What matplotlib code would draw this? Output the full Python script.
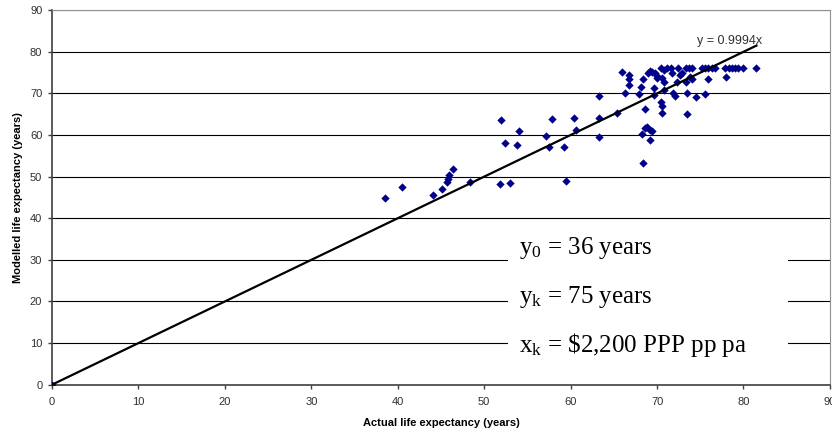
import matplotlib
matplotlib.use('Agg')
import matplotlib.pyplot as plt
from matplotlib.patches import Rectangle

# actual vs modelled life expectancy (years)
actual = [0, 38.5, 40.5, 44.1, 45.1, 45.7, 45.8, 45.9, 46.4, 48.4,
          51.8, 53.0, 51.9, 52.4, 53.8, 54.0, 57.1, 57.5, 57.8, 59.2,
          59.5, 60.4, 60.6, 63.3, 63.3, 63.3, 65.4, 65.9, 66.3, 66.7,
          66.8, 66.7, 67.9, 68.2, 68.4, 68.6, 68.25, 68.55, 68.8, 69.2,
          69.4, 69.2, 68.4, 69.0, 69.4, 69.8, 70.0, 69.6, 69.6, 70.4,
          70.75, 70.6, 71.1, 71.6, 71.7, 70.75, 70.5, 70.6, 70.6, 70.75,
          71.9, 72.1, 72.3, 72.4, 72.7, 72.9, 73.3, 73.5, 73.5, 73.3,
          73.65, 74.0, 73.8, 74.0, 74.5, 75.2, 75.6, 75.95, 76.35, 76.7,
          75.85, 75.6, 77.9, 78.3, 78.65, 79.05, 79.4, 79.9, 78.0, 81.5,
          70.0, 69.2]
modelled = [0, 44.9, 47.4, 45.6, 47.0, 48.7, 49.5, 50.3, 51.7, 48.8,
            48.2, 48.4, 63.6, 58.1, 57.6, 61.0, 59.8, 57.2, 63.8, 57.1,
            49.0, 64.1, 61.2, 69.4, 64.0, 59.4, 65.3, 75.2, 70.1, 74.4,
            73.4, 72.0, 69.8, 71.4, 73.4, 66.2, 60.2, 61.6, 62.0, 61.2,
            61.0, 58.8, 53.2, 74.8, 75.2, 74.8, 74.1, 69.6, 71.2, 76.0,
            75.6, 73.6, 76.0, 76.0, 74.8, 72.8, 68.0, 67.0, 65.3, 70.8,
            70.0, 69.3, 72.6, 76.0, 74.4, 74.8, 72.8, 70.1, 65.0, 76.0,
            76.0, 76.0, 74.0, 73.4, 69.0, 76.0, 76.0, 76.0, 76.0, 76.0,
            73.4, 69.7, 76.0, 76.0, 76.0, 76.0, 76.0, 76.0, 73.8, 76.0,
            73.6, 75.4]

slope = 0.9994
params = [('y', '0', '36 years'),
          ('y', 'k', '75 years'),
          ('x', 'k', r'\$2,200 PPP pp pa')]

plt.rcParams['font.family'] = 'Liberation Sans'
plt.rcParams['mathtext.fontset'] = 'custom'
plt.rcParams['mathtext.rm'] = 'Liberation Serif'
plt.rcParams['mathtext.it'] = 'Liberation Serif'

fig = plt.figure(figsize=(8.32, 4.32), dpi=100)
ax = fig.add_axes([0.0625, 0.1095, 0.935, 0.8674])

ax.set_xlim(0, 90)
ax.set_ylim(0, 90)
ax.set_xticks(range(0, 91, 10))
ax.set_yticks(range(0, 91, 10))
ax.yaxis.grid(True, color='black', lw=0.8)
ax.set_axisbelow(True)

for s in ['left', 'bottom']:
    ax.spines[s].set_color('#404040')
    ax.spines[s].set_linewidth(1.2)
ax.spines['right'].set_color('#909090')
ax.spines['top'].set_color('#909090')
ax.tick_params(labelsize=8, colors='#303030', length=3, width=1, pad=4)
ax.tick_params(axis='x', pad=6)
ax.tick_params(axis='both', color='#404040')

ax.scatter(actual, modelled, marker='D', s=18, color='#00008B', zorder=3, linewidths=0)

xmax = max(actual)
ax.plot([0, xmax], [0, slope * xmax], color='black', lw=1.6, zorder=4)
ax.text(78.4, 81.0, 'y = 0.9994x', fontsize=9, color='#303030', ha='center', va='bottom', zorder=5)

# white box behind the parameter text
ax.add_patch(Rectangle((52.8, 3.0), 32.4, 35.0, facecolor='white', edgecolor='none', zorder=2))
for i, (v, sub, rest) in enumerate(params):
    ax.text(54.0, 32.8 - i * 11.65, v + r'$_{\mathrm{' + sub + r'}}$' + ' = ' + rest,
            fontsize=18, family='Liberation Serif', ha='left', va='center', zorder=5)

ax.set_xlabel('Actual life expectancy (years)', fontsize=8, fontweight='bold', labelpad=8)
ax.set_ylabel('Modelled life expectancy (years)', fontsize=8, fontweight='bold', labelpad=5)

fig.savefig('out.png', dpi=100)
